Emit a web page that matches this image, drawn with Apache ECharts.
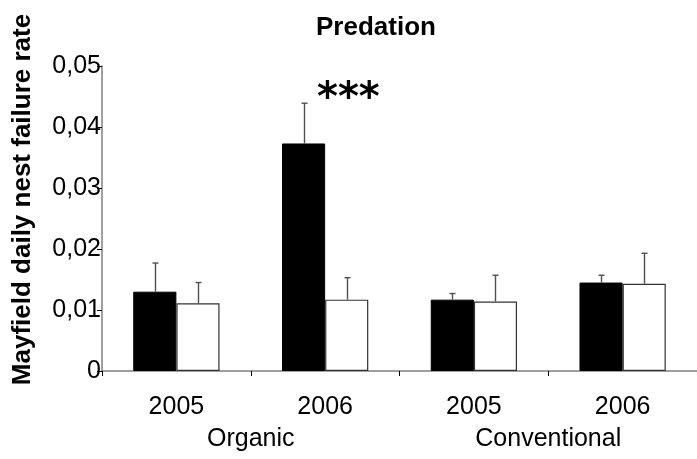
<!DOCTYPE html>
<html>
<head>
<meta charset="utf-8">
<script src="https://cdn.jsdelivr.net/npm/echarts@6/dist/echarts.min.js"></script>
<style>
  html, body { margin: 0; padding: 0; background: #fff; }
  #chart { width: 697px; height: 459px; }
</style>
</head>
<body>
<div id="chart"></div>
<script>
// ---- data ----
const years = ['2005', '2006', '2005', '2006'];
const groups = ['Organic', 'Conventional'];
const blackValues = [0.0130, 0.0373, 0.0117, 0.0145];
const blackErrors = [0.0047, 0.0066, 0.0010, 0.0012];
const whiteValues = [0.0111, 0.0117, 0.0114, 0.0143];
const whiteErrors = [0.0034, 0.0036, 0.0043, 0.0050];
const yTicks = [0, 0.01, 0.02, 0.03, 0.04, 0.05];
const titleText = 'Predation';
const yName = 'Mayfield daily nest failure rate';
const significance = '***';

const FONT = '"Liberation Sans", Arial, sans-serif';
const BAR_W = 0.29; // fraction of category band

function errData(vals, errs) {
  return vals.map((v, i) => [i, v, v + errs[i]]);
}

function errRender(side) {
  return function (params, api) {
    const idx = api.value(0);
    const base = api.coord([idx, api.value(1)]);
    const top = api.coord([idx, api.value(2)]);
    const band = api.size([1, 0])[0];
    const x = Math.round(base[0] + side * band * BAR_W / 2) + 0.5;
    const cap = 3;
    const st = { stroke: '#505050', lineWidth: 1.4 };
    return {
      type: 'group',
      children: [
        { type: 'line', shape: { x1: x, y1: base[1], x2: x, y2: top[1] }, style: st },
        { type: 'line', shape: { x1: x - cap, y1: top[1], x2: x + cap, y2: top[1] }, style: st }
      ]
    };
  };
}

const chart = echarts.init(document.getElementById('chart'), null, { renderer: 'canvas' });
chart.setOption({
  animation: false,
  backgroundColor: '#ffffff',
  title: {
    text: titleText,
    left: 316, top: 15, padding: 0,
    textStyle: { fontFamily: FONT, fontWeight: 'bold', fontSize: 26, color: '#000' }
  },
  grid: { left: 102, right: -5, top: 66, bottom: 88, containLabel: false },
  xAxis: [
    {
      type: 'category', data: years, position: 'bottom',
      axisLine: { lineStyle: { color: '#808080', width: 1.5 } },
      axisTick: { show: true, length: 5, lineStyle: { color: '#000', width: 1 } },
      axisLabel: { fontFamily: FONT, fontSize: 25, color: '#000', margin: 24 },
      splitLine: { show: false }
    },
    {
      type: 'category', data: groups, position: 'bottom',
      axisLine: { show: false }, axisTick: { show: false },
      axisLabel: { fontFamily: FONT, fontSize: 25, color: '#000', margin: 56 },
      splitLine: { show: false }
    }
  ],
  yAxis: {
    type: 'value', min: yTicks[0], max: yTicks[yTicks.length - 1], interval: yTicks[1] - yTicks[0],
    name: yName, nameLocation: 'middle', nameGap: 66,
    nameTextStyle: { fontFamily: FONT, fontWeight: 'bold', fontSize: 26, color: '#000', padding: [0, 0, 0, 38] },
    axisLine: { show: true, lineStyle: { color: '#808080', width: 1.5 } },
    axisTick: { show: true, length: 5, lineStyle: { color: '#000', width: 1 } },
    axisLabel: {
      fontFamily: FONT, fontSize: 25, color: '#000', margin: 1,
      formatter: v => v === 0 ? '0' : v.toFixed(2).replace('.', ',')
    },
    splitLine: { show: false }
  },
  series: [
    {
      type: 'bar', data: blackValues, barWidth: (BAR_W * 100) + '%', barGap: '0%',
      itemStyle: { color: '#000', borderColor: '#000', borderWidth: 1 }, z: 2
    },
    {
      type: 'bar', data: whiteValues, barWidth: (BAR_W * 100) + '%', barGap: '0%',
      itemStyle: { color: '#fff', borderColor: '#333', borderWidth: 1.2 }, z: 2
    },
    { type: 'custom', data: errData(blackValues, blackErrors), renderItem: errRender(-1), z: 3, encode: { x: 0, y: 2 } },
    { type: 'custom', data: errData(whiteValues, whiteErrors), renderItem: errRender(1), z: 3, encode: { x: 0, y: 2 } }
  ],
  graphic: [
    {
      type: 'text', left: 317, top: 80,
      style: { text: significance, font: 'bold 40px "DejaVu Sans", sans-serif', fill: '#000' }
    }
  ]
});
</script>
</body>
</html>
